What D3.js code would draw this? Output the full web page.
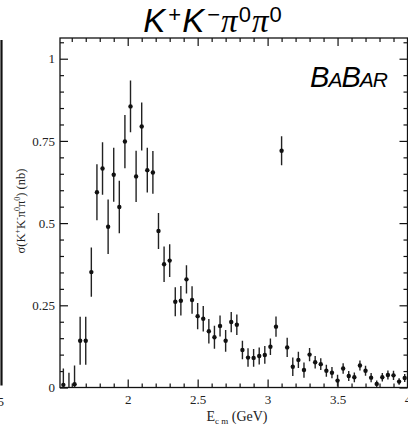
<!DOCTYPE html>
<html lang="en">
	<head>
		<meta charset="utf-8">
		<title>K+K-pi0pi0 cross section</title>
		<script src="https://cdn.jsdelivr.net/npm/d3@7"></script>
		<style type="text/css">
			body { margin: 0; background: #fff; }
			svg { display: block; }
			.tick text { font-family: "Liberation Serif", "DejaVu Serif", serif; font-size: 13px; fill: #222; }
		</style>
	</head>
	<body>
		<script type="text/javascript">
			// ================= data =========================================
			// bin centres, GeV
			var energy = [1.54, 1.58, 1.62, 1.66, 1.70, 1.74, 1.78, 1.82, 1.86, 1.90,
				1.94, 1.98, 2.02, 2.06, 2.10, 2.14, 2.18, 2.22, 2.26, 2.30,
				2.34, 2.38, 2.42, 2.46, 2.50, 2.54, 2.58, 2.62, 2.66, 2.70,
				2.74, 2.78, 2.82, 2.86, 2.90, 2.94, 2.98, 3.02, 3.06, 3.10,
				3.14, 3.18, 3.22, 3.26, 3.30, 3.34, 3.38, 3.42, 3.46, 3.50,
				3.54, 3.58, 3.62, 3.66, 3.70, 3.74, 3.78, 3.82, 3.86, 3.90,
				3.94, 3.98];
			// cross section, nb
			var sigma = [0.008, -0.010, 0.010, 0.142, 0.142, 0.351, 0.594, 0.666, 0.489, 0.647,
				0.549, 0.748, 0.855, 0.642, 0.794, 0.661, 0.654, 0.476, 0.375, 0.386,
				0.261, 0.264, 0.329, 0.266, 0.217, 0.209, 0.171, 0.153, 0.187, 0.142,
				0.199, 0.191, 0.114, 0.091, 0.090, 0.096, 0.099, 0.124, 0.185, 0.720,
				0.122, 0.063, 0.084, 0.053, 0.100, 0.077, 0.071, 0.051, 0.045, 0.021,
				0.058, 0.035, 0.031, 0.067, 0.051, 0.030, 0.011, 0.031, 0.038, 0.037,
				0.018, 0.029];
			// symmetric errors, nb
			var sigmaErr = [0.050, 0.055, 0.057, 0.073, 0.073, 0.075, 0.085, 0.080, 0.083, 0.082,
				0.080, 0.081, 0.079, 0.078, 0.073, 0.068, 0.065, 0.055, 0.054, 0.050,
				0.044, 0.045, 0.043, 0.042, 0.040, 0.039, 0.037, 0.035, 0.032, 0.033,
				0.031, 0.031, 0.028, 0.028, 0.027, 0.026, 0.027, 0.025, 0.031, 0.044,
				0.029, 0.028, 0.025, 0.023, 0.020, 0.019, 0.018, 0.018, 0.017, 0.018,
				0.016, 0.015, 0.015, 0.015, 0.015, 0.014, 0.010, 0.013, 0.014, 0.014,
				0.010, 0.012];

			var xMajor = [2, 2.5, 3, 3.5, 4];
			var xMinor = [1.6, 1.7, 1.8, 1.9, 2.1, 2.2, 2.3, 2.4, 2.6, 2.7, 2.8, 2.9,
				3.1, 3.2, 3.3, 3.4, 3.6, 3.7, 3.8, 3.9];
			var yMajor = [0, 0.25, 0.5, 0.75, 1];
			var yMinor = [0.05, 0.1, 0.15, 0.2, 0.3, 0.35, 0.4, 0.45, 0.55, 0.6, 0.65, 0.7,
				0.8, 0.85, 0.9, 0.95, 1.05];

			// ================= setup ==================
			var w = 408;
			var h = 425;
			// plot box ("top" is taken by window.top, so prefix these)
			var pLeft = 60, pRight = 407.5, pTop = 38, pBottom = 387.5;
			var ink = "#111";

			var data = energy.map(function(e, i) {
				return { e: e, s: sigma[i], err: sigmaErr[i] };
			});

			var xScale = d3.scaleLinear().domain([1.516, 4.0]).range([pLeft, pRight]);
			var yScale = d3.scaleLinear().domain([0, 1.063]).range([pBottom, pTop]);

			var svg = d3.select("body")
						.append("svg")
						.attr("width", w)
						.attr("height", h);

			svg.append("defs").append("clipPath")
				.attr("id", "plotclip")
				.append("rect")
				.attr("x", pLeft).attr("y", pTop)
				.attr("width", pRight - pLeft).attr("height", pBottom - pTop);

			// leftover edge of the neighbouring panel
			svg.append("line")
				.attr("x1", 1.5).attr("x2", 1.5)
				.attr("y1", pTop + 2).attr("y2", pBottom - 2)
				.attr("stroke", ink).attr("stroke-width", 2.2);
			svg.append("text")
				.attr("x", 4).attr("y", 406)
				.attr("text-anchor", "end")
				.attr("font-family", "Liberation Serif, serif")
				.attr("font-size", 13).attr("fill", "#222")
				.text("5");

			// ================= axes (ticks inward) ==================
			function styleAxis(g) {
				g.select(".domain").remove();
				g.selectAll(".tick line").attr("stroke", ink).attr("stroke-width", 1.2);
			}

			svg.append("g")
				.attr("transform", "translate(0," + pBottom + ")")
				.call(d3.axisBottom(xScale).tickValues(xMajor).tickSizeInner(-8).tickSizeOuter(0)
					.tickPadding(7).tickFormat(d3.format("")))
				.call(styleAxis);
			svg.append("g")
				.attr("transform", "translate(0," + pBottom + ")")
				.call(d3.axisBottom(xScale).tickValues(xMinor).tickSizeInner(-4).tickSizeOuter(0).tickFormat(""))
				.call(styleAxis);
			svg.append("g")
				.attr("transform", "translate(0," + pTop + ")")
				.call(d3.axisTop(xScale).tickValues(xMajor).tickSizeInner(-8).tickSizeOuter(0).tickFormat(""))
				.call(styleAxis);
			svg.append("g")
				.attr("transform", "translate(0," + pTop + ")")
				.call(d3.axisTop(xScale).tickValues(xMinor).tickSizeInner(-4).tickSizeOuter(0).tickFormat(""))
				.call(styleAxis);

			svg.append("g")
				.attr("transform", "translate(" + pLeft + ",0)")
				.call(d3.axisLeft(yScale).tickValues(yMajor).tickSizeInner(-8).tickSizeOuter(0)
					.tickPadding(5).tickFormat(d3.format("")))
				.call(styleAxis);
			svg.append("g")
				.attr("transform", "translate(" + pLeft + ",0)")
				.call(d3.axisLeft(yScale).tickValues(yMinor).tickSizeInner(-4).tickSizeOuter(0).tickFormat(""))
				.call(styleAxis);
			svg.append("g")
				.attr("transform", "translate(" + pRight + ",0)")
				.call(d3.axisRight(yScale).tickValues(yMajor).tickSizeInner(-8).tickSizeOuter(0).tickFormat(""))
				.call(styleAxis);
			svg.append("g")
				.attr("transform", "translate(" + pRight + ",0)")
				.call(d3.axisRight(yScale).tickValues(yMinor).tickSizeInner(-4).tickSizeOuter(0).tickFormat(""))
				.call(styleAxis);

			// frame
			svg.append("rect")
				.attr("x", pLeft).attr("y", pTop)
				.attr("width", pRight - pLeft).attr("height", pBottom - pTop)
				.attr("fill", "none").attr("stroke", ink).attr("stroke-width", 1.3);

			// ================= points with error bars ==================
			var pts = svg.append("g").attr("clip-path", "url(#plotclip)");

			pts.selectAll("line.err")
				.data(data)
				.enter()
				.append("line")
				.attr("class", "err")
				.attr("x1", d => xScale(d.e)).attr("x2", d => xScale(d.e))
				.attr("y1", d => yScale(d.s - d.err)).attr("y2", d => yScale(d.s + d.err))
				.attr("stroke", "#222").attr("stroke-width", 1.4);

			pts.selectAll("circle")
				.data(data)
				.enter()
				.append("circle")
				.attr("cx", d => xScale(d.e))
				.attr("cy", d => yScale(d.s))
				.attr("r", 2.2)
				.attr("fill", "#111");

			// ================= texts ==================
			var title = svg.append("text")
				.attr("x", 213).attr("y", 32)
				.attr("text-anchor", "middle")
				.attr("font-family", "Liberation Sans, Arial, sans-serif")
				.attr("font-size", 33)
				.attr("letter-spacing", 1)
				.attr("fill", "#000");
			title.append("tspan").attr("font-style", "italic").text("K");
			title.append("tspan").attr("font-size", 22).attr("dy", -10).attr("dx", 2).text("+");
			title.append("tspan").attr("font-style", "italic").attr("dy", 10).text("K");
			title.append("tspan").attr("font-size", 22).attr("dy", -10).attr("dx", 2).text("\u2212");
			title.append("tspan").attr("font-family", "Liberation Serif, serif").attr("font-style", "italic").attr("dy", 10).text("\u03c0");
			title.append("tspan").attr("font-size", 22).attr("dy", -10).text("0");
			title.append("tspan").attr("font-family", "Liberation Serif, serif").attr("font-style", "italic").attr("dy", 10).text("\u03c0");
			title.append("tspan").attr("font-size", 22).attr("dy", -10).text("0");

			// BaBar logo
			var logo = svg.append("text")
				.attr("x", 387).attr("y", 87)
				.attr("text-anchor", "end")
				.attr("font-family", "Liberation Sans, Arial, sans-serif")
				.attr("font-style", "italic")
				.attr("font-size", 29)
				.attr("letter-spacing", -1)
				.attr("fill", "#000");
			logo.append("tspan").text("B");
			logo.append("tspan").attr("font-size", 21).text("A");
			logo.append("tspan").text("B");
			logo.append("tspan").attr("font-size", 21).text("AR");

			// x axis title
			var xt = svg.append("text")
				.attr("x", 237).attr("y", 421)
				.attr("text-anchor", "middle")
				.attr("font-family", "Liberation Serif, serif")
				.attr("font-size", 14)
				.attr("fill", "#222");
			xt.append("tspan").text("E");
			xt.append("tspan").attr("font-size", 9).attr("dy", 3).text("c m");
			xt.append("tspan").attr("dy", -3).text("  (GeV)");

			// y axis title
			var yt = svg.append("text")
				.attr("transform", "translate(25,211) rotate(-90)")
				.attr("text-anchor", "middle")
				.attr("font-family", "Liberation Serif, serif")
				.attr("font-size", 12.5)
				.attr("fill", "#222");
			yt.append("tspan").text("\u03c3(K");
			yt.append("tspan").attr("font-size", 8).attr("dy", -5).text("+");
			yt.append("tspan").attr("dy", 5).text("K");
			yt.append("tspan").attr("font-size", 8).attr("dy", -5).text("-");
			yt.append("tspan").attr("dy", 5).text("\u03c0");
			yt.append("tspan").attr("font-size", 8).attr("dy", -5).text("0");
			yt.append("tspan").attr("dy", 5).text("\u03c0");
			yt.append("tspan").attr("font-size", 8).attr("dy", -5).text("0");
			yt.append("tspan").attr("dy", 5).text(") (nb)");
		</script>
	</body>
</html>
